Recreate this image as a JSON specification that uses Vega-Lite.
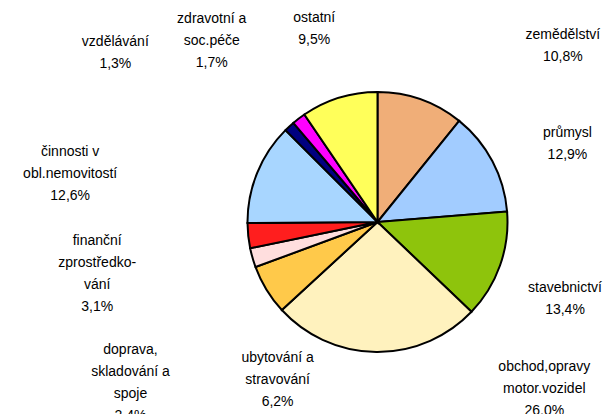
{
  "$schema": "https://vega.github.io/schema/vega-lite/v6.json",
  "width": 463,
  "height": 384,
  "autosize": "none",
  "padding": {"left": 146, "top": 30, "right": 0, "bottom": 0},
  "background": "white",
  "view": {"stroke": null},
  "data": {
    "values": [
      {"cat": "zemědělství", "label": "zemědělství\n10,8%", "value": 10.8, "order": 1},
      {"cat": "průmysl", "label": "průmysl\n12,9%", "value": 12.9, "order": 2},
      {"cat": "stavebnictví", "label": "stavebnictví\n13,4%", "value": 13.4, "order": 3},
      {"cat": "obchod", "label": "obchod,opravy\nmotor.vozidel\n26,0%", "value": 26.0, "order": 4},
      {"cat": "ubytování", "label": "ubytování a\nstravování\n6,2%", "value": 6.2, "order": 5},
      {"cat": "doprava", "label": "doprava,\nskladování a\nspoje\n2,4%", "value": 2.4, "order": 6},
      {"cat": "finanční", "label": "finanční\nzprostředko-\nvání\n3,1%", "value": 3.1, "order": 7},
      {"cat": "činnosti", "label": "činnosti v\nobl.nemovitostí\n12,6%", "value": 12.6, "order": 8},
      {"cat": "vzdělávání", "label": "vzdělávání\n1,3%", "value": 1.3, "order": 9},
      {"cat": "zdravotní", "label": "zdravotní a\nsoc.péče\n1,7%", "value": 1.7, "order": 10},
      {"cat": "ostatní", "label": "ostatní\n9,5%", "value": 9.5, "order": 11}
    ]
  },
  "encoding": {
    "theta": {"field": "value", "type": "quantitative", "stack": true},
    "order": {"field": "order", "type": "quantitative"}
  },
  "layer": [
    {
      "mark": {"type": "arc", "outerRadius": 130, "stroke": "#000000", "strokeWidth": 2},
      "encoding": {
        "color": {
          "field": "cat", "type": "nominal", "legend": null,
          "scale": {
            "domain": ["zemědělství", "průmysl", "stavebnictví", "obchod", "ubytování", "doprava", "finanční", "činnosti", "vzdělávání", "zdravotní", "ostatní"],
            "range": ["#F0AE78", "#A2CCFF", "#8EC40C", "#FFF2BE", "#FFC94A", "#FFDEDE", "#FF1E1E", "#A8D6FF", "#000080", "#FF00FF", "#FFFF5A"]
          }
        }
      }
    },
    {"mark": {"type": "text", "radius": 130, "dx": 142, "dy": -64, "lineBreak": "\n", "lineHeight": 22, "fontSize": 14, "font": "Liberation Sans", "align": "center", "baseline": "middle", "color": "#000"},
     "encoding": {"text": {"condition": {"test": "datum.cat === 'zemědělství'", "field": "label"}, "value": ""}}},
    {"mark": {"type": "text", "radius": 130, "dx": 75, "dy": -28, "lineBreak": "\n", "lineHeight": 22, "fontSize": 14, "font": "Liberation Sans", "align": "center", "baseline": "middle", "color": "#000"},
     "encoding": {"text": {"condition": {"test": "datum.cat === 'průmysl'", "field": "label"}, "value": ""}}},
    {"mark": {"type": "text", "radius": 130, "dx": 65, "dy": 22, "lineBreak": "\n", "lineHeight": 22, "fontSize": 14, "font": "Liberation Sans", "align": "center", "baseline": "middle", "color": "#000"},
     "encoding": {"text": {"condition": {"test": "datum.cat === 'stavebnictví'", "field": "label"}, "value": ""}}},
    {"mark": {"type": "text", "radius": 130, "dx": 168, "dy": 15, "lineBreak": "\n", "lineHeight": 22, "fontSize": 14, "font": "Liberation Sans", "align": "center", "baseline": "middle", "color": "#000"},
     "encoding": {"text": {"condition": {"test": "datum.cat === 'obchod'", "field": "label"}, "value": ""}}},
    {"mark": {"type": "text", "radius": 130, "dx": 11, "dy": 68, "lineBreak": "\n", "lineHeight": 22, "fontSize": 14, "font": "Liberation Sans", "align": "center", "baseline": "middle", "color": "#000"},
     "encoding": {"text": {"condition": {"test": "datum.cat === 'ubytování'", "field": "label"}, "value": ""}}},
    {"mark": {"type": "text", "radius": 130, "dx": -122, "dy": 92, "lineBreak": "\n", "lineHeight": 22, "fontSize": 14, "font": "Liberation Sans", "align": "center", "baseline": "middle", "color": "#000"},
     "encoding": {"text": {"condition": {"test": "datum.cat === 'doprava'", "field": "label"}, "value": ""}}},
    {"mark": {"type": "text", "radius": 130, "dx": -151, "dy": 5, "lineBreak": "\n", "lineHeight": 22, "fontSize": 14, "font": "Liberation Sans", "align": "center", "baseline": "middle", "color": "#000"},
     "encoding": {"text": {"condition": {"test": "datum.cat === 'finanční'", "field": "label"}, "value": ""}}},
    {"mark": {"type": "text", "radius": 130, "dx": -187, "dy": -21, "lineBreak": "\n", "lineHeight": 22, "fontSize": 14, "font": "Liberation Sans", "align": "center", "baseline": "middle", "color": "#000"},
     "encoding": {"text": {"condition": {"test": "datum.cat === 'činnosti'", "field": "label"}, "value": ""}}},
    {"mark": {"type": "text", "radius": 130, "dx": -174, "dy": -84, "lineBreak": "\n", "lineHeight": 22, "fontSize": 14, "font": "Liberation Sans", "align": "center", "baseline": "middle", "color": "#000"},
     "encoding": {"text": {"condition": {"test": "datum.cat === 'vzdělávání'", "field": "label"}, "value": ""}}},
    {"mark": {"type": "text", "radius": 130, "dx": -87, "dy": -100, "lineBreak": "\n", "lineHeight": 22, "fontSize": 14, "font": "Liberation Sans", "align": "center", "baseline": "middle", "color": "#000"},
     "encoding": {"text": {"condition": {"test": "datum.cat === 'zdravotní'", "field": "label"}, "value": ""}}},
    {"mark": {"type": "text", "radius": 130, "dx": -25, "dy": -80, "lineBreak": "\n", "lineHeight": 22, "fontSize": 14, "font": "Liberation Sans", "align": "center", "baseline": "middle", "color": "#000"},
     "encoding": {"text": {"condition": {"test": "datum.cat === 'ostatní'", "field": "label"}, "value": ""}}}
  ]
}
